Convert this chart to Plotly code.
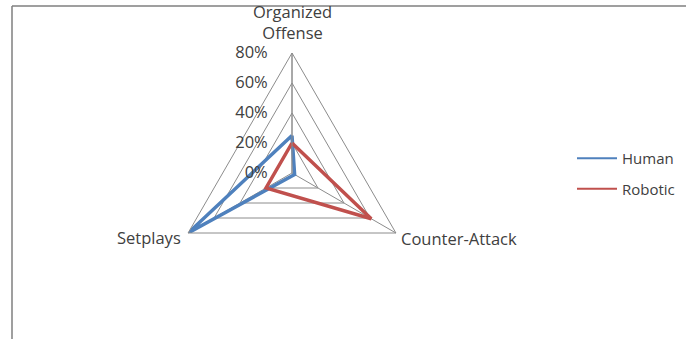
import plotly.graph_objects as go

# Play-type categories around the radar (clockwise from the top)
categories = ["Organized Offense", "Counter-Attack", "Setplays"]
category_labels = ["Organized<br>Offense", "Counter-Attack", "Setplays"]

# Share of goals per play type, in percent
human_values = [25, 2, 80]
robotic_values = [20, 61, 20]

series_names = ["Human", "Robotic"]
series_colors = ["#4F81BD", "#C0504D"]

radial_ticks = [0, 20, 40, 60, 80]
radial_ticktext = [f"{v}%" for v in radial_ticks]

FONT = "Open Sans, sans-serif"
AXIS_FONT_SIZE = 16.5
LEGEND_FONT_SIZE = 15
TEXT_COLOR = "#404040"
GRID_COLOR = "#8C8C8C"

W, H = 686, 339

fig = go.Figure()

for name, vals, color in zip(series_names, [human_values, robotic_values], series_colors):
    # closed polygon for each series
    fig.add_trace(go.Scatterpolar(
        r=vals + vals[:1],
        theta=categories + categories[:1],
        mode="lines",
        line=dict(color=color, width=3.5),
        name=name,
        showlegend=False,
        hoverinfo="skip",
    ))
    # legend entry with a thinner key line
    fig.add_trace(go.Scatterpolar(
        r=[None], theta=[categories[0]],
        mode="lines",
        line=dict(color=color, width=2),
        name=name,
        legendgroup=name,
        showlegend=True,
    ))

cx, cy, rad = 292, 173, 120
fig.update_layout(
    width=W, height=H,
    margin=dict(l=0, r=0, t=0, b=0),
    paper_bgcolor="white",
    plot_bgcolor="white",
    font=dict(family=FONT, size=AXIS_FONT_SIZE, color=TEXT_COLOR),
    polar=dict(
        domain=dict(x=[(cx - rad) / W, (cx + rad) / W],
                    y=[(H - cy - rad) / H, (H - cy + rad) / H]),
        bgcolor="white",
        gridshape="linear",
        radialaxis=dict(
            range=[0, 80],
            tickvals=radial_ticks,
            ticktext=radial_ticktext,
            angle=90,
            tickangle=90,
            side="counterclockwise",
            showline=True,
            linecolor=GRID_COLOR,
            linewidth=1,
            gridcolor=GRID_COLOR,
            gridwidth=1,
            ticks="outside",
            ticklen=18,
            tickcolor="rgba(0,0,0,0)",
            tickfont=dict(size=AXIS_FONT_SIZE, color=TEXT_COLOR),
        ),
        angularaxis=dict(
            rotation=90,
            direction="clockwise",
            showline=True,
            linecolor=GRID_COLOR,
            linewidth=1,
            gridcolor=GRID_COLOR,
            gridwidth=1,
            ticks="",
            showticklabels=False,
        ),
    ),
    legend=dict(
        x=572 / W, y=1 - 142 / H,
        xanchor="left", yanchor="top",
        bgcolor="rgba(0,0,0,0)",
        tracegroupgap=8,
        itemwidth=40,
        font=dict(size=LEGEND_FONT_SIZE, color=TEXT_COLOR),
    ),
    shapes=[
        # chart-area border (top and left edges)
        dict(type="line", xref="paper", yref="paper",
             x0=12 / W, x1=1, y0=1 - 6 / H, y1=1 - 6 / H,
             line=dict(color="#7F7F7F", width=1.5)),
        dict(type="line", xref="paper", yref="paper",
             x0=12 / W, x1=12 / W, y0=0, y1=1 - 6 / H,
             line=dict(color="#7F7F7F", width=1.5)),
    ],
)

# Category names placed just outside each vertex of the radar
label_pos = [
    dict(x=cx / W, y=1 - 46 / H, xanchor="center", yanchor="bottom"),
    dict(x=399 / W, y=1 - 238 / H, xanchor="left", yanchor="middle"),
    dict(x=183 / W, y=1 - 237 / H, xanchor="right", yanchor="middle"),
]
for text, pos in zip(category_labels, label_pos):
    fig.add_annotation(
        text=text, xref="paper", yref="paper", showarrow=False,
        font=dict(size=AXIS_FONT_SIZE, color=TEXT_COLOR), align="center",
        **pos,
    )

fig.write_html("out.html")
